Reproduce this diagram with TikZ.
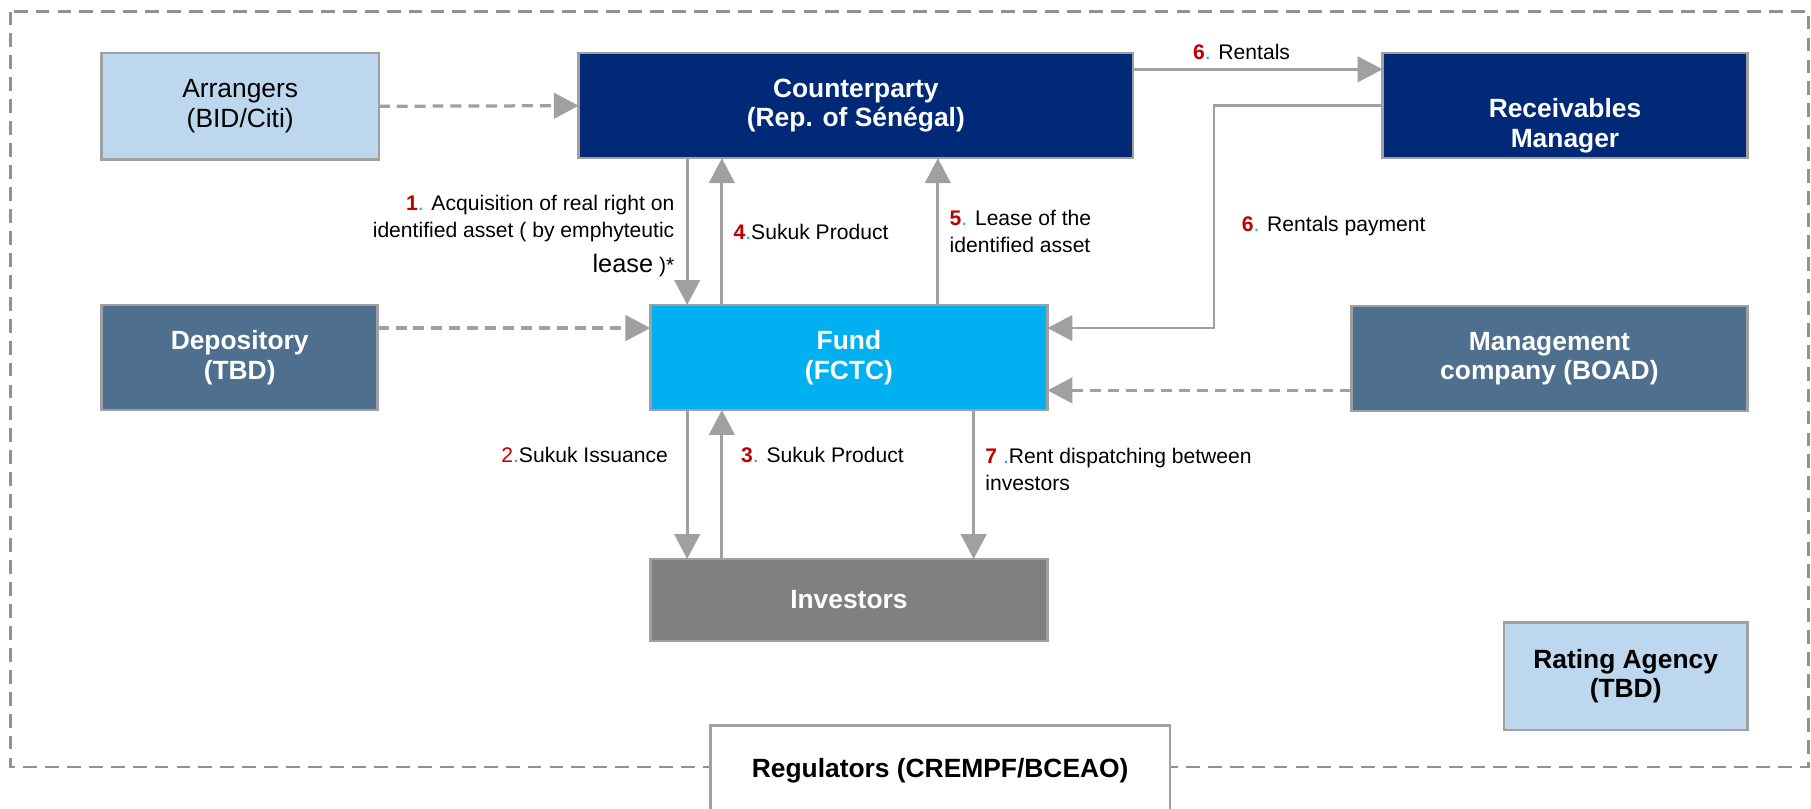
\documentclass[tikz,border=0pt]{standalone}
\usepackage{fontspec}
\setmainfont{Liberation Sans}
\usetikzlibrary{arrows.meta, positioning}

\definecolor{navy}{RGB}{0,42,120}
\definecolor{steel}{RGB}{79,111,142}
\definecolor{skyfill}{RGB}{189,215,238}
\definecolor{fundcyan}{RGB}{0,176,240}
\definecolor{invgray}{RGB}{128,128,128}
\definecolor{linegray}{RGB}{160,160,160}
\definecolor{framegray}{RGB}{145,145,145}
\definecolor{numred}{RGB}{192,0,0}
\definecolor{dotblue}{RGB}{0,176,240}

% red step number followed by a blue dot
\newcommand{\fnum}[1]{\textcolor{numred}{\textbf{#1}}\textcolor{dotblue}{.}}

\begin{document}
\begin{tikzpicture}[
  x=0.02cm, y=-0.02cm,
  party/.style={rectangle, draw=linegray, line width=1.2pt, inner sep=0pt, outer sep=0pt,
    align=center, text=white, font=\fontsize{13}{14.5}\selectfont\bfseries},
  lightparty/.style={party, fill=skyfill, text=black},
  flow/.style={draw=linegray, line width=1.35pt, -{Triangle[length=0.43cm, width=0.44cm]}},
  dflow/.style={flow, line width=1.6pt, dash pattern=on 0.19cm off 0.12cm},
  note/.style={inner sep=0pt, font=\fontsize{10.4}{13.5}\selectfont},
  frame/.style={draw=framegray, line width=1.2pt, dash pattern=on 0.24cm off 0.14cm}
]
  \useasboundingbox (0,0) rectangle (1568,700);
  \draw[frame] (9,10) rectangle (1566,664);

  % parties
  \node[lightparty, font=\fontsize{13}{14.5}\selectfont, minimum width=4.8cm, minimum height=1.84cm] (arr) at (208,92) {Arrangers\\(BID/Citi)};
  \node[party, fill=navy, minimum width=9.6cm, minimum height=1.82cm] (cp) at (741,91.5) {Counterparty\\(Rep. of Sénégal)};
  \node[party, fill=navy, minimum width=6.32cm, minimum height=1.82cm] (recv) at (1355,91.5) {};
  \node[party, draw=none] (recvtext) at (1355,109) {Receivables\\Manager};
  \node[party, fill=steel, minimum width=4.78cm, minimum height=1.82cm] (dep) at (207.5,309.5) {Depository\\(TBD)};
  \node[party, fill=fundcyan, minimum width=6.88cm, minimum height=1.82cm] (fund) at (735,309.5) {Fund\\(FCTC)};
  \node[party, fill=steel, minimum width=6.86cm, minimum height=1.82cm] (mgmt) at (1341.5,310.5) {Management\\company (BOAD)};
  \node[party, fill=invgray, minimum width=6.88cm, minimum height=1.42cm] (inv) at (735,519.5) {Investors};
  \node[lightparty, minimum width=4.22cm, minimum height=1.86cm] (rating) at (1407.5,585.5) {Rating Agency\\(TBD)};
  \node[lightparty, fill=white, minimum width=7.96cm, minimum height=1.56cm] (reg) at (814,667) {Regulators (CREMPF/BCEAO)};

  % arrow columns and rows
  \coordinate (xa) at (595,0);
  \coordinate (xb) at (625,0);
  \coordinate (xc) at (812,0);
  \coordinate (xd) at (843,0);
  \coordinate (xt) at (1051,0);
  \coordinate (fin) at ([yshift=-0.4cm]fund.north east);
  \coordinate (fout) at ([yshift=0.34cm]fund.south east);

  \draw[dflow] (arr.east) -- (cp.west);
  \draw[dflow] (dep.east |- fin) -- (fund.west |- fin);
  \draw[dflow] (mgmt.west |- fout) -- (fout);

  \draw[flow] ([yshift=-0.28cm]cp.north east) -- node[note, above=0.14cm, pos=0.435] {\fnum{6} Rentals} ([yshift=-0.28cm]recv.north west);
  \draw[flow] (recv.west) -| node[note, right=0.46cm, pos=0.77] {\fnum{6} Rentals payment} (xt |- fin) -- (fin);

  \draw[flow] (cp.south -| xa) -- node[note, left=0.2cm, pos=0.53, align=right] {\fnum{1} Acquisition of real right on\\identified asset ( by emphyteutic\\[0.12cm]{\fontsize{12.5}{15}\selectfont lease} )*} (fund.north -| xa);
  \draw[flow] (fund.north -| xb) -- node[note, right=0.18cm] {\fnum{4}Sukuk Product} (cp.south -| xb);
  \draw[flow] (fund.north -| xc) -- node[note, right=0.18cm, align=left] {\fnum{5} Lease of the\\identified asset} (cp.south -| xc);

  \draw[flow] (fund.south -| xa) -- node[note, left=0.31cm, pos=0.3] {\textcolor{numred}{2}\textcolor{dotblue}{.}Sukuk Issuance} (inv.north -| xa);
  \draw[flow] (inv.north -| xb) -- node[note, right=0.31cm, pos=0.7] {\fnum{3} Sukuk Product} (fund.south -| xb);
  \draw[flow] (fund.south -| xd) -- node[note, right=0.18cm, pos=0.4, align=left] {\textcolor{numred}{\textbf{7}} \textcolor{dotblue}{.}Rent dispatching between\\investors} (inv.north -| xd);
\end{tikzpicture}
\end{document}
